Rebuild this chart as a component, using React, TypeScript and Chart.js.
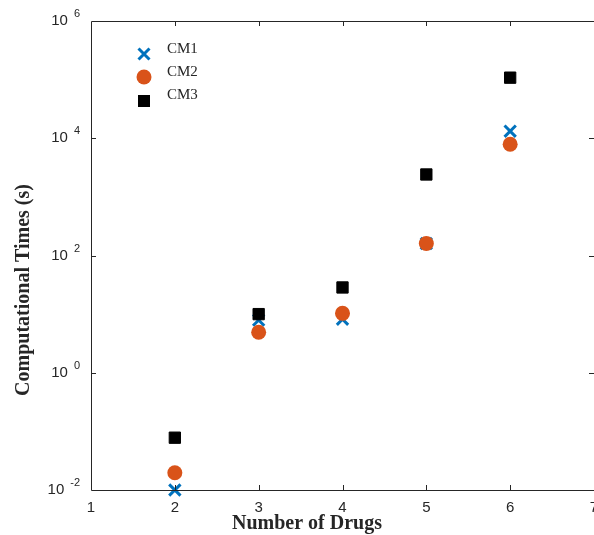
import React, { useEffect, useRef } from "react";
import { Chart, registerables } from "chart.js";

Chart.register(...registerables);

const drugCounts = [2, 3, 4, 5, 6];
const cm1Times = [0.01, 7.9, 8.2, 160, 13200];
const cm2Times = [0.0197, 4.9, 10.3, 160, 7900];
const cm3Times = [0.078, 10, 28.5, 2410, 108000];
const seriesNames = ["CM1", "CM2", "CM3"];
const xTickValues = [1, 2, 3, 4, 5, 6, 7];
const yTickExponents = [-2, 0, 2, 4, 6];
const xTitle = "Number of Drugs";
const yTitle = "Computational Times (s)";

const BLUE = "#0072BD";
const ORANGE = "#D95319";
const BLACK = "#000000";
const AXIS = "#262626";

const axesPlugin = {
  id: "matlabAxes",
  afterDraw(chart: any) {
    const ctx = chart.ctx as CanvasRenderingContext2D;
    const xs = chart.scales.x;
    const ys = chart.scales.y;
    const { left, right, top, bottom } = chart.chartArea;
    ctx.save();
    ctx.strokeStyle = AXIS;
    ctx.lineWidth = 1;
    ctx.beginPath();
    ctx.moveTo(left + 0.5, top + 0.5);
    ctx.lineTo(left + 0.5, bottom + 0.5);
    ctx.lineTo(right, bottom + 0.5);
    ctx.moveTo(left + 0.5, top + 0.5);
    ctx.lineTo(right, top + 0.5);
    ctx.stroke();
    const tl = 5;
    ctx.beginPath();
    xTickValues.forEach((v) => {
      const px = Math.round(xs.getPixelForValue(v)) + 0.5;
      if (v > xTickValues[0] && v < xTickValues[xTickValues.length - 1]) {
        ctx.moveTo(px, bottom);
        ctx.lineTo(px, bottom - tl);
        ctx.moveTo(px, top);
        ctx.lineTo(px, top + tl);
      }
    });
    yTickExponents.forEach((e) => {
      const py = Math.round(ys.getPixelForValue(Math.pow(10, e))) + 0.5;
      if (e > yTickExponents[0] && e < yTickExponents[yTickExponents.length - 1]) {
        ctx.moveTo(left, py);
        ctx.lineTo(left + tl, py);
        ctx.moveTo(right, py);
        ctx.lineTo(right - tl, py);
      }
    });
    ctx.stroke();

    ctx.fillStyle = AXIS;
    ctx.font = '15px "Liberation Sans", Arial, sans-serif';
    ctx.textAlign = "center";
    ctx.textBaseline = "middle";
    xTickValues.forEach((v) => {
      const px = xs.getPixelForValue(v);
      ctx.fillText(String(v), px, bottom + 18);
    });

    yTickExponents.forEach((e) => {
      const py = ys.getPixelForValue(Math.pow(10, e));
      const rx = left - 11;
      ctx.font = '11px "Liberation Sans", Arial, sans-serif';
      const expStr = String(e);
      const ew = ctx.measureText(expStr).width;
      ctx.textAlign = "left";
      ctx.textBaseline = "middle";
      ctx.fillText(expStr, rx - ew, py - 7);
      ctx.font = '15px "Liberation Sans", Arial, sans-serif';
      ctx.textAlign = "right";
      ctx.fillText("10", rx - ew - 6, py);
    });

    ctx.fillStyle = AXIS;
    ctx.font = 'bold 20px "Liberation Serif", "Times New Roman", serif';
    ctx.textAlign = "center";
    ctx.textBaseline = "alphabetic";
    ctx.fillText(xTitle, 307, 529);
    ctx.save();
    ctx.translate(29, 290);
    ctx.rotate(-Math.PI / 2);
    ctx.fillText(yTitle, 0, 0);
    ctx.restore();

    const lx = 144;
    const lys = [54, 77, 101];
    const tys = [53, 76, 99];
    ctx.font = '15px "Liberation Serif", "Times New Roman", serif';
    ctx.textAlign = "left";
    ctx.textBaseline = "alphabetic";
    seriesNames.forEach((name, i) => {
      const ly = lys[i];
      if (i === 0) {
        ctx.strokeStyle = BLUE;
        ctx.lineWidth = 3;
        ctx.beginPath();
        ctx.moveTo(lx - 5.5, ly - 5.5);
        ctx.lineTo(lx + 5.5, ly + 5.5);
        ctx.moveTo(lx + 5.5, ly - 5.5);
        ctx.lineTo(lx - 5.5, ly + 5.5);
        ctx.stroke();
      } else if (i === 1) {
        ctx.fillStyle = ORANGE;
        ctx.beginPath();
        ctx.arc(lx, ly, 7.5, 0, Math.PI * 2);
        ctx.fill();
      } else {
        ctx.fillStyle = BLACK;
        ctx.fillRect(lx - 6, ly - 6, 12, 12);
      }
      ctx.fillStyle = AXIS;
      ctx.fillText(name, 167, tys[i]);
    });
    ctx.restore();
  },
};

export default function App() {
  const ref = useRef<HTMLCanvasElement>(null);
  useEffect(() => {
    document.body.style.margin = "0";
    const canvas = ref.current!;
    const toPts = (vals: number[]) => drugCounts.map((x, i) => ({ x, y: vals[i] }));
    const chart = new Chart(canvas, {
      type: "scatter",
      data: {
        datasets: [
          {
            label: seriesNames[0],
            data: toPts(cm1Times),
            pointStyle: "crossRot",
            pointRadius: 8,
            borderColor: BLUE,
            backgroundColor: BLUE,
            pointBorderWidth: 3,
            order: 3,
            clip: false as any,
          },
          {
            label: seriesNames[1],
            data: toPts(cm2Times),
            pointStyle: "circle",
            pointRadius: 7.5,
            borderColor: ORANGE,
            backgroundColor: ORANGE,
            pointBorderWidth: 0,
            order: 2,
            clip: false as any,
          },
          {
            label: seriesNames[2],
            data: toPts(cm3Times),
            pointStyle: "rect",
            pointRadius: 8,
            borderColor: BLACK,
            backgroundColor: BLACK,
            pointBorderWidth: 1,
            order: 1,
            clip: false as any,
          },
        ],
      },
      options: {
        animation: false,
        responsive: false,
        maintainAspectRatio: false,
        layout: { autoPadding: false, padding: { left: 91, right: 0, top: 21, bottom: 45 } },
        plugins: { legend: { display: false }, tooltip: { enabled: false } },
        events: [],
        scales: {
          x: { type: "linear", min: 1, max: 7, display: false },
          y: { type: "logarithmic", min: 0.01, max: 1e6, display: false },
        },
      },
      plugins: [axesPlugin],
    });
    return () => chart.destroy();
  }, []);
  return (
    <div style={{ position: "absolute", left: 0, top: 0, width: 594, height: 535, background: "#fff" }}>
      <canvas ref={ref} width={594} height={535} style={{ display: "block" }} />
    </div>
  );
}
